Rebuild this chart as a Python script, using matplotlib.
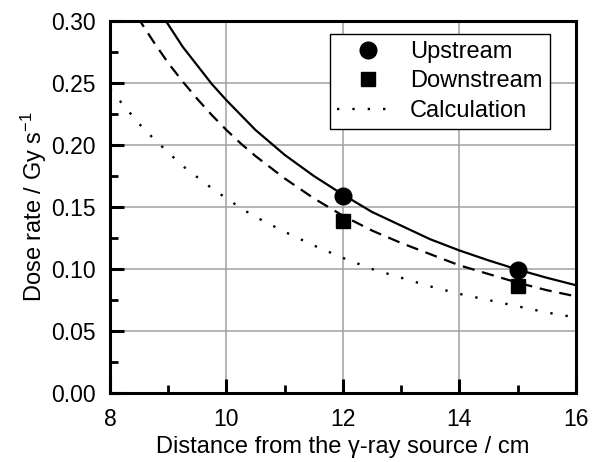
import numpy as np
import matplotlib.pyplot as plt
from matplotlib.ticker import MultipleLocator

plt.rcParams['font.family'] = ['Liberation Sans', 'DejaVu Sans']
plt.rcParams['mathtext.default'] = 'regular'

# ==== data ====
dist_meas = [12, 15]
upstream = [0.159, 0.099]
downstream = [0.139, 0.086]

x_fit = [8.0, 8.25, 8.5, 8.75, 9.0, 9.25, 9.5, 9.75, 10.0, 10.25, 10.5,
         10.75, 11.0, 11.5, 12.0, 12.5, 13.0, 13.5, 14.0, 14.5, 15.0,
         15.5, 16.0]
up_fit = [0.380, 0.357, 0.336, 0.315, 0.297, 0.279, 0.264, 0.249, 0.236,
          0.224, 0.212, 0.202, 0.192, 0.175, 0.160, 0.146, 0.135, 0.124,
          0.115, 0.107, 0.0996, 0.093, 0.087]
down_fit = [0.344, 0.322, 0.301, 0.283, 0.266, 0.251, 0.237, 0.224, 0.212,
            0.201, 0.191, 0.182, 0.173, 0.157, 0.143, 0.131, 0.121, 0.112,
            0.103, 0.096, 0.089, 0.083, 0.078]
calc = [0.245, 0.231, 0.217, 0.205, 0.194, 0.183, 0.174, 0.165, 0.157,
        0.149, 0.142, 0.136, 0.130, 0.119, 0.109, 0.100, 0.093, 0.086,
        0.080, 0.075, 0.070, 0.065, 0.061]

# ==== plot ====
fig = plt.figure(figsize=(6.01, 4.62), dpi=100)
ax = fig.add_axes([0.183, 0.149, 0.775, 0.806])

ax.plot(x_fit, up_fit, color='black', lw=1.6, ls='-')
ax.plot(x_fit, down_fit, color='black', lw=1.6, ls=(0, (5.5, 3.5)))
ax.plot(x_fit, calc, color='black', lw=1.7, ls=(0, (1, 5.5)), label='Calculation')
ax.plot(dist_meas, upstream, 'o', color='black', ms=12, label='Upstream')
ax.plot(dist_meas, downstream, 's', color='black', ms=10.5, label='Downstream')

ax.set_xlim(8, 16)
ax.set_ylim(0, 0.30)
ax.xaxis.set_major_locator(MultipleLocator(2))
ax.xaxis.set_minor_locator(MultipleLocator(1))
ax.yaxis.set_major_locator(MultipleLocator(0.05))
ax.yaxis.set_minor_locator(MultipleLocator(0.025))
ax.yaxis.set_major_formatter(plt.FormatStrFormatter('%.2f'))

ax.tick_params(which='major', direction='in', length=10, width=2.2,
               labelsize=16.5, top=False, right=False)
ax.tick_params(axis='y', which='major', pad=10)
ax.tick_params(axis='x', which='major', pad=11)
ax.tick_params(which='minor', direction='in', length=6, width=2,
               top=False, right=False)
for sp in ax.spines.values():
    sp.set_linewidth(2.2)

ax.grid(True, which='major', color='#a0a0a0', lw=1.1)
ax.set_axisbelow(True)

ax.set_xlabel('Distance from the γ-ray source / cm', fontsize=17, labelpad=3)
ax.set_ylabel('Dose rate / Gy s$^{-1}$', fontsize=17, labelpad=2)

h, l = ax.get_legend_handles_labels()
order = [1, 2, 0]
leg = ax.legend([h[i] for i in order], [l[i] for i in order],
                loc='upper right', bbox_to_anchor=(0.944, 0.965),
                fontsize=17, frameon=True, fancybox=False,
                edgecolor='black', framealpha=1, handlelength=2.6,
                borderpad=0.3, labelspacing=0.32, handletextpad=0.5,
                borderaxespad=0)
leg.get_frame().set_linewidth(1.0)

fig.savefig('out.png', dpi=100)
